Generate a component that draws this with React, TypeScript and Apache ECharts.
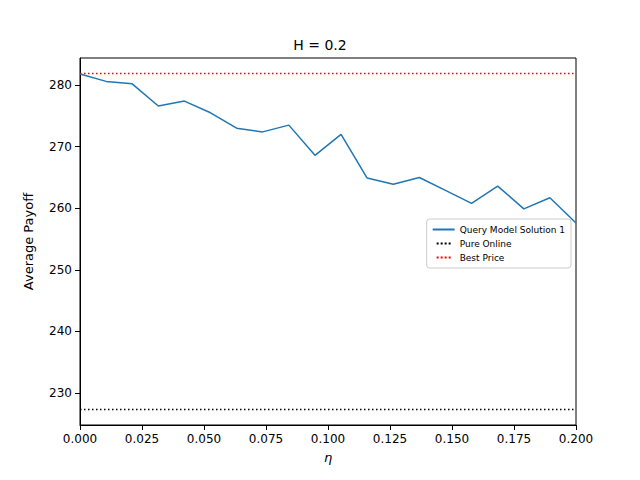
import { useEffect, useRef } from "react";
import * as echarts from "echarts";

const etas = Array.from({ length: 20 }, (_, i) => +(0.2 * i / 19).toFixed(5));
const payoff = [281.8, 280.6, 280.2, 276.6, 277.4, 275.5, 273.0, 272.4, 273.5, 268.6, 272.0, 264.9, 263.9, 265.0, 262.9, 260.8, 263.6, 259.9, 261.7, 257.6];
const pureOnline = 227.3;
const bestPrice = 281.9;
const xTicks = ["0.000", "0.025", "0.050", "0.075", "0.100", "0.125", "0.150", "0.175", "0.200"];
const yTicks = [230, 240, 250, 260, 270, 280];

export default function App() {
  const ref = useRef<HTMLDivElement>(null);
  useEffect(() => {
    if (!ref.current) return;
    const chart = echarts.init(ref.current, null, { renderer: "svg" });
    const font = "DejaVu Sans";
    const dots = "path://M0,0h2v2h-2zM4,0h2v2h-2zM8,0h2v2h-2zM12,0h2v2h-2z";
    chart.setOption({
      animation: false,
      textStyle: { fontFamily: font },
      title: { text: "H = 0.2", left: "center", top: 25, textStyle: { fontFamily: font, fontSize: 14, fontWeight: "normal", color: "#000" } },
      grid: { left: 72, right: 56, top: 50, bottom: 47, show: true, borderColor: "#000", borderWidth: 1 },
      legend: {
        right: 61, top: 211, orient: "vertical", itemWidth: 22, itemHeight: 2, itemGap: 5,
        backgroundColor: "#fff", borderColor: "#ccc", borderWidth: 1, borderRadius: 3, padding: [6, 6],
        textStyle: { fontSize: 9, color: "#000" },
        data: [
          { name: "Query Model Solution 1", icon: "rect" },
          { name: "Pure Online", icon: dots },
          { name: "Best Price", icon: dots },
        ],
      },
      xAxis: {
        type: "value", min: 0, max: 0.2, interval: 0.025,
        name: "η", nameLocation: "middle", nameGap: 26,
        nameTextStyle: { fontStyle: "italic", fontSize: 13, color: "#000" },
        axisLine: { lineStyle: { color: "#000" } },
        axisTick: { lineStyle: { color: "#000" } },
        axisLabel: { color: "#000", fontSize: 12, formatter: (v: number) => xTicks[Math.round(v / 0.025)] },
        splitLine: { show: false },
      },
      yAxis: {
        type: "value", min: 224.8, max: 284.4,
        name: "Average Payoff", nameLocation: "middle", nameGap: 45,
        nameTextStyle: { fontSize: 13, color: "#000" },
        axisLine: { show: true, lineStyle: { color: "#000" } },
        axisTick: { show: true, customValues: yTicks, lineStyle: { color: "#000" } },
        axisLabel: { color: "#000", fontSize: 12, customValues: yTicks },
        splitLine: { show: false },
      },
      series: [
        { name: "Query Model Solution 1", type: "line", data: etas.map((x, i) => [x, payoff[i]]), showSymbol: false, lineStyle: { color: "#1f77b4", width: 1.5 }, itemStyle: { color: "#1f77b4" } },
        { name: "Pure Online", type: "line", data: [[0, pureOnline], [0.2, pureOnline]], showSymbol: false, lineStyle: { color: "#000", width: 1.5, type: [1.5, 2.5] }, itemStyle: { color: "#000" } },
        { name: "Best Price", type: "line", data: [[0, bestPrice], [0.2, bestPrice]], showSymbol: false, lineStyle: { color: "red", width: 1.5, type: [1.5, 2.5] }, itemStyle: { color: "red" } },
      ],
    });
    return () => chart.dispose();
  }, []);
  return <div ref={ref} style={{ width: 624, height: 464 }} />;
}
